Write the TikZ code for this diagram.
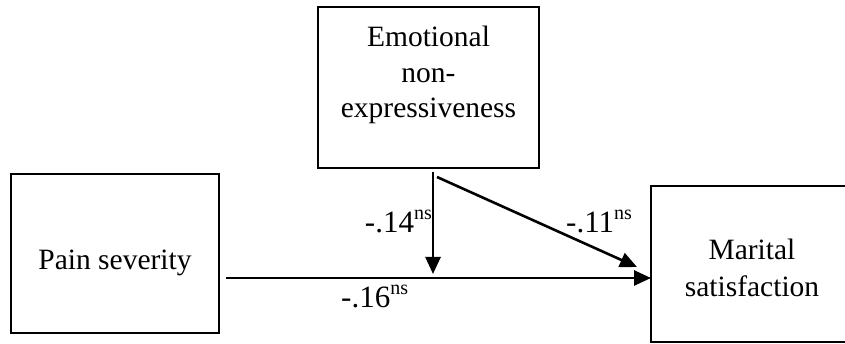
\documentclass[tikz,border=0pt]{standalone}
\usepackage{fontspec}
\setmainfont{Liberation Serif}
\usetikzlibrary{arrows.meta,calc}
\tikzset{
  boxnode/.style={draw=black,line width=2.3pt,inner sep=0pt,outer sep=0pt},
  txt/.style={inner sep=0pt,anchor=base,font=\fontsize{29.5}{34}\selectfont},
  coef/.style={inner sep=0pt,font=\fontsize{31}{34}\selectfont},
  arr/.style={line width=2.6pt,-{Triangle[length=17pt,width=15pt]}}
}
\newcommand{\nsup}{\raisebox{13pt}{\fontsize{20}{20}\selectfont ns}}
\begin{document}
\begin{tikzpicture}[x=1pt,y=-1pt]
\useasboundingbox (0,0) rectangle (845,344);
% boxes
\node[boxnode,minimum width=221pt,minimum height=161pt] (emo) at (428.5,87.5) {};
\node[boxnode,minimum width=208pt,minimum height=159pt] (pain) at (115,253.5) {};
\node[boxnode,minimum width=249pt,minimum height=156pt] (sat) at (775.5,264) {};
% box texts
\node[txt] (emo1) at (428.5,47) {Emotional};
\node[txt] (emo2) at (428.5,83) {non-};
\node[txt] (emo3) at (428.5,118) {expressiveness};
\node[txt] (paint) at (115,270) {Pain severity};
\node[txt] (sat1) at (752,260) {Marital};
\node[txt] (sat2) at (752,297) {satisfaction};
% connectors
\coordinate (h0) at ($(pain.east)+(7,24.5)$);
\coordinate (h1) at (h0 -| sat.west);
\draw[arr] (h0) -- (h1);
\coordinate (v0) at ($(emo.south)+(4.5,4)$);
\coordinate (v1) at (v0 |- h0);
\draw[arr,shorten >=4pt] (v0) -- (v1);
\coordinate (d0) at ($(emo.south)+(8.5,9)$);
\coordinate (d1) at ($(sat.west)+(-14,3)$);
\draw[arr] (d0) -- (d1);
% coefficients
\node[coef,anchor=base east] (c14) at (432,233) {-.14\nsup};
\node[coef,anchor=base west] (c11) at (566,233) {-.11\nsup};
\node[coef,anchor=base west] (c16) at (341,307) {-.16\nsup};
\end{tikzpicture}
\end{document}
